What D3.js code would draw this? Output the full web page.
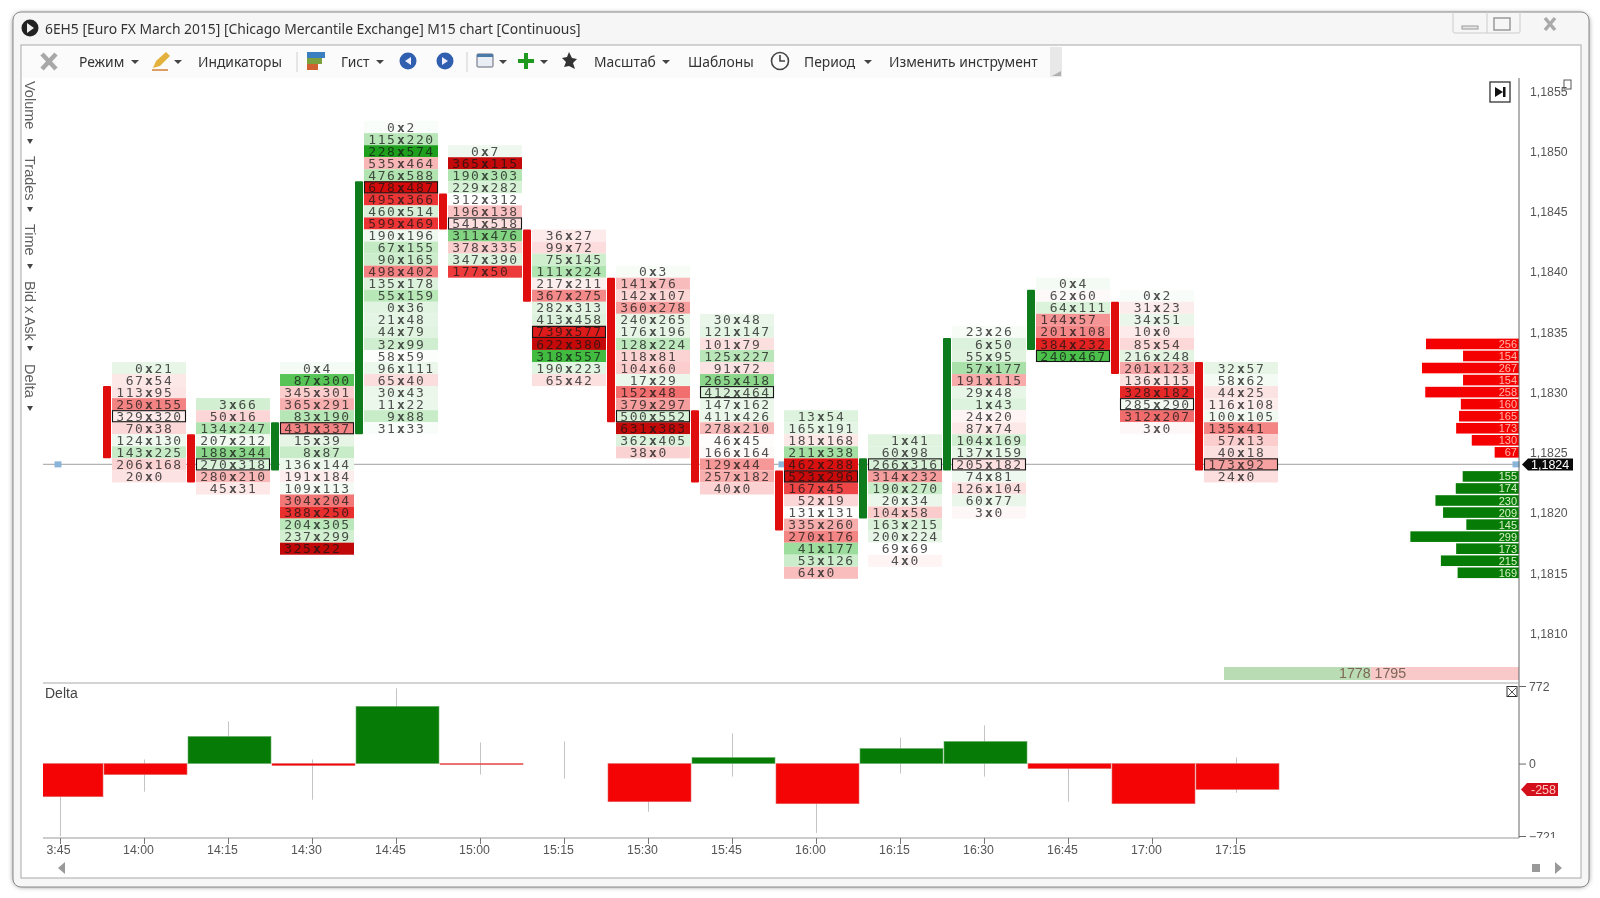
<!DOCTYPE html>
<html><head><meta charset="utf-8">
<style>
html,body{margin:0;padding:0;background:#fff;overflow:hidden}
svg{display:block;filter:blur(0.45px)}
.num{font-family:"DejaVu Sans Mono",monospace;font-size:13px;letter-spacing:1.6px}
.ui{font-family:"Noto Sans",sans-serif}
.ax{font-family:"Liberation Sans",Arial,sans-serif;font-size:12.3px;fill:#555}
</style>
<script src="https://cdn.jsdelivr.net/npm/d3@7"></script>
</head><body><svg id="c" width="1600" height="898"></svg>
<script>
// ---- data -------------------------------------------------------------
const titleText = "6EH5 [Euro FX March 2015] [Chicago Mercantile Exchange] M15 chart [Continuous]";
const timeLabels = ["13:45","14:00","14:15","14:30","14:45","15:00","15:15","15:30","15:45","16:00","16:15","16:30","16:45","17:00","17:15"];
const priceTicks = [1.1855,1.1850,1.1845,1.1840,1.1835,1.1830,1.1825,1.1820,1.1815,1.1810];
const lastPrice = 1.1824;

// highest traded price of each footprint column (14:00 .. 17:15)
const colTop = [1.1832,1.1829,1.1832,1.1852,1.1850,1.1843,1.1840,1.1836,1.1828,1.1826,1.1835,1.1839,1.1838,1.1832];
const colOpen  = [1.1830,1.1826,1.1824,1.1827,1.1846,1.1843,1.1839,1.1828,1.1823,1.1820,1.1824,1.1834,1.1837,1.1832];
const colClose = [1.1825,1.1823,1.1827,1.1847,1.1844,1.1838,1.1828,1.1823,1.1819,1.1824,1.1834,1.1838,1.1832,1.1824];

const col01 = [[0,21],[67,54],[113,95],[250,155],[329,320],[70,38],[124,130],[143,225],[206,168],[20,0]];
const col02 = [[3,66],[50,16],[134,247],[207,212],[188,344],[270,318],[280,210],[45,31]];
const col03 = [[0,4],[87,300],[345,301],[365,291],[83,190],[431,337],[15,39],[8,87],[136,144],[191,184],[109,113],[304,204],[388,250],[204,305],[237,299],[325,22]];
const col04 = [[0,2],[115,220],[228,574],[535,464],[476,588],[678,487],[495,366],[460,514],[599,469],[190,196],[67,155],[90,165],[498,402],[135,178],[55,159],[0,36],[21,48],[44,79],[32,99],[58,59],[96,111],[65,40],[30,43],[11,22],[9,88],[31,33]];
const col05 = [[0,7],[365,115],[190,303],[229,282],[312,312],[196,138],[541,518],[311,476],[378,335],[347,390],[177,50]];
const col06 = [[36,27],[99,72],[75,145],[111,224],[217,211],[367,275],[282,313],[413,458],[739,577],[622,380],[318,557],[190,223],[65,42]];
const col07 = [[0,3],[141,76],[142,107],[360,278],[240,265],[176,196],[128,224],[118,81],[104,60],[17,29],[152,48],[379,297],[500,552],[631,383],[362,405],[38,0]];
const col08 = [[30,48],[121,147],[101,79],[125,227],[91,72],[265,418],[412,464],[147,162],[411,426],[278,210],[46,45],[166,164],[129,44],[257,182],[40,0]];
const col09 = [[13,54],[165,191],[181,168],[211,338],[462,288],[523,296],[167,45],[52,19],[131,131],[335,260],[270,176],[41,177],[53,126],[64,0]];
const col10 = [[1,41],[60,98],[266,316],[314,232],[190,270],[20,34],[104,58],[163,215],[200,224],[69,69],[4,0]];
const col11 = [[23,26],[6,50],[55,95],[57,177],[191,115],[29,48],[1,43],[24,20],[87,74],[104,169],[137,159],[205,182],[74,81],[126,104],[60,77],[3,0]];
const col12 = [[0,4],[62,60],[64,111],[144,57],[201,108],[384,232],[240,467]];
const col13 = [[0,2],[31,23],[34,51],[10,0],[85,54],[216,248],[201,123],[136,115],[328,182],[285,290],[312,207],[3,0]];
const col14 = [[32,57],[58,62],[44,25],[116,108],[100,105],[135,41],[57,13],[40,18],[173,92],[24,0]];
const footprint = [col01,col02,col03,col04,col05,col06,col07,col08,col09,col10,col11,col12,col13,col14];

const deltaValue = [-330,-110,270,-20,570,-5,0,-380,60,-400,150,220,-50,-400,-258];
const deltaHigh  = [0,40,420,40,750,210,220,0,300,0,260,380,0,0,60];
const deltaLow   = [-725,-280,0,-360,0,-110,-150,-480,-130,-690,-100,-130,-380,-80,-290];
const deltaTicks = [772,0,-721];
const deltaLast = -258;

const profileAskPrices = [1.1834,1.1833,1.1832,1.1831,1.1830,1.1829,1.1828,1.1827,1.1826,1.1825];
const profileAsk = [256,154,267,154,258,160,165,173,130,67];
const profileBidPrices = [1.1823,1.1822,1.1821,1.1820,1.1819,1.1818,1.1817,1.1816,1.1815];
const profileBid = [155,174,230,209,145,299,173,215,169];
const totals = [1778,1795];

const menuItems = [["Режим",79],["Индикаторы",198],["Гист",341],["Масштаб",594],["Шаблоны",688],["Период",804],["Изменить инструмент",889]];
const menuArrows = [135,178,380,503,544,666,868];
const sideLabels = [["Volume",81],["Trades",156],["Time",224],["Bid x Ask",281],["Delta",364]];
const sideArrows = [142,210,267,349,409];

// ---- scales -----------------------------------------------------------
const svg = d3.select("#c");
const plotL = 43, plotR = 1519, mainT = 78, deltaB = 838;
const y = d3.scaleLinear().domain([1.1810,1.1855]).range([633,91]);
const x = d3.scaleLinear().domain([0,14]).range([60,1236]);
const yD = d3.scaleLinear().domain([-721,772]).range([836,686]);
const rowH = y(1.1830)-y(1.1831);
const w = d3.scaleLinear().domain([0,300]).range([0,109]);
const redC = d3.scaleLinear().domain([0,6,30,70,100,130,180,260]).range(["#ffffff","#fdeeee","#fcd9d9","#f9b8b8","#f27878","#ec3434","#d80c0c","#c00808"]).clamp(true);
const grnC = d3.scaleLinear().domain([0,6,40,100,160,240,340]).range(["#ffffff","#eef8ee","#dff3df","#bce8bc","#86d486","#40bc40","#1ea01e"]).clamp(true);
const bg = ([b,a]) => b>a ? redC(b-a) : grnC(a-b);

// ---- window chrome -----------------------------------------------------
const defs = svg.append("defs");
const sh = defs.append("filter").attr("id","sh").attr("x","-2%").attr("y","-2%").attr("width","104%").attr("height","104%");
sh.append("feGaussianBlur").attr("stdDeviation",2.5);
defs.append("clipPath").attr("id","dClip").append("rect").attr("x",plotL).attr("y",683).attr("width",plotR-plotL).attr("height",155);

svg.append("rect").attr("x",13).attr("y",13).attr("width",1576).attr("height",874).attr("rx",9).attr("fill","#888").attr("filter","url(#sh)");
svg.append("rect").attr("x",13).attr("y",12).attr("width",1576).attr("height",875).attr("rx",8).attr("fill","#f6f6f6").attr("stroke","#8a8a8a");
svg.append("rect").attr("x",21).attr("y",45).attr("width",1560).attr("height",833).attr("fill","#fff").attr("stroke","#a8a8a8");
svg.append("rect").attr("x",22).attr("y",46).attr("width",1036).attr("height",32).attr("fill","#fbfbfb");
svg.append("rect").attr("x",1050).attr("y",47).attr("width",12).attr("height",30).attr("fill","#e8e8e8");
svg.append("path").attr("d","M1052 76h9v-5z").attr("fill","#b0b0b0");

// title icon
svg.append("circle").attr("cx",30).attr("cy",28).attr("r",8.5).attr("fill","#222");
svg.append("path").attr("d","M27 23l7 5-7 5z").attr("fill","#eee");
svg.append("text").attr("class","ui").attr("x",45).attr("y",34).attr("font-size",13.85).attr("fill","#333").text(titleText);

// window buttons
const btn = svg.append("g").attr("fill","none").attr("stroke","#aaa");
btn.append("path").attr("d","M1453 12v19q0 2 2 2H1519q1 0 1-2V12M1487 12v21").attr("stroke","#ccc");
btn.append("rect").attr("x",1462).attr("y",26).attr("width",16).attr("height",3).attr("stroke","#999").attr("fill","#e6e6e6");
btn.append("rect").attr("x",1494).attr("y",18).attr("width",16).attr("height",12).attr("stroke","#999").attr("stroke-width",1.5);
btn.append("path").attr("d","M1545 18l10 12M1555 18l-10 12").attr("stroke","#aaa").attr("stroke-width",3.5);

// toolbar
svg.selectAll("text.menu").data(menuItems).join("text").attr("class","menu ui")
  .attr("x",d=>d[1]).attr("y",67).attr("font-size",13.85).attr("fill","#333").text(d=>d[0]);
svg.selectAll("path.arr").data(menuArrows).join("path").attr("class","arr")
  .attr("d",d=>`M${d-4} 60h8l-4 4z`).attr("fill","#444");
svg.append("path").attr("d","M42 54l14 15M56 54l-14 15").attr("stroke","#a8a8a8").attr("stroke-width",4.5);
svg.append("path").attr("d","M153 68l3-7 10-9 4 4-10 10z").attr("fill","#e3b23c");
svg.append("path").attr("d","M152 70h16").attr("stroke","#d08030").attr("stroke-width",1.5);
svg.append("path").attr("d","M297 52v20M467 52v20").attr("stroke","#d0d0d0");
svg.append("rect").attr("x",307).attr("y",52).attr("width",18).attr("height",6).attr("fill","#3a7fc0");
svg.append("rect").attr("x",307).attr("y",58).attr("width",15).attr("height",6).attr("fill","#7aa040");
svg.append("rect").attr("x",307).attr("y",64).attr("width",11).attr("height",6).attr("fill","#d06030");
[408,445].forEach((cx,i)=>{
  svg.append("circle").attr("cx",cx).attr("cy",61).attr("r",8.5).attr("fill","#2f5fae");
  svg.append("path").attr("d",i? `M${cx-3} 57l6 4-6 4z`:`M${cx+3} 57l-6 4 6 4z`).attr("fill","#eef");
});
svg.append("rect").attr("x",477).attr("y",54).attr("width",16).attr("height",13).attr("rx",1).attr("fill","#e8eef4").attr("stroke","#667");
svg.append("rect").attr("x",477).attr("y",54).attr("width",16).attr("height",3).attr("fill","#4a7aa8");
svg.append("path").attr("d","M526 53v16M518 61h16").attr("stroke","#1f9a1f").attr("stroke-width",4);
svg.append("path").attr("d","M569 52l3 6 5 1-4 4 2 6-6-3-5 1 2-5-4-4 5-1z").attr("fill","#333");
svg.append("circle").attr("cx",780).attr("cy",61).attr("r",8.5).attr("fill","none").attr("stroke","#444").attr("stroke-width",1.6);
svg.append("path").attr("d","M780 55v6h5").attr("fill","none").attr("stroke","#444").attr("stroke-width",1.6);

// left rotated labels
svg.selectAll("text.side").data(sideLabels).join("text").attr("class","side")
  .attr("transform",d=>`translate(25,${d[1]}) rotate(90)`)
  .attr("font-family","Liberation Sans").attr("font-size",14.5).attr("fill","#5f5f5f").text(d=>d[0]);
svg.selectAll("path.sidearr").data(sideArrows).join("path").attr("class","sidearr")
  .attr("d",d=>`M27 ${d-3}h6l-3 5z`).attr("fill","#444");

// ---- main pane ----------------------------------------------------------
const main = svg.append("g");
main.append("line").attr("x1",plotL).attr("x2",plotR).attr("y1",y(lastPrice)).attr("y2",y(lastPrice)).attr("stroke","#b4b4b4").attr("stroke-width",1.2);
[58,782,1516].forEach(px=>main.append("rect").attr("x",px-3.5).attr("y",y(lastPrice)-3).attr("width",7).attr("height",6).attr("fill","#8ab4d8"));

footprint.forEach((rows,ci)=>{
  const tickX = x(ci+1), left = tickX-32, width = 74, cx = left+37;
  const g = main.append("g");
  const data = rows.map((r,k)=>({b:r[0],a:r[1],p:colTop[ci]-k*0.0001}));
  const maxVol = d3.max(data,d=>d.a+d.b);
  g.selectAll("rect.cell").data(data).join("rect").attr("class","cell")
    .attr("x",left).attr("width",width).attr("y",d=>y(d.p)-rowH/2).attr("height",rowH)
    .attr("fill",d=>bg([d.b,d.a]));
  const tc = d=>d3.interpolateRgb(bg([d.b,d.a]),"#151515")(0.74);
  g.selectAll("text.b").data(data).join("text").attr("class","b num")
    .attr("x",cx-4.5).attr("y",d=>y(d.p)+4.6).attr("text-anchor","end").attr("fill",tc).text(d=>d.b);
  g.selectAll("text.m").data(data).join("text").attr("class","m num")
    .attr("x",cx).attr("y",d=>y(d.p)+4.6).attr("text-anchor","middle").attr("fill",tc)
    .style("font-weight","bold").style("letter-spacing","0").text("x");
  g.selectAll("text.a").data(data).join("text").attr("class","a num")
    .attr("x",cx+5.5).attr("y",d=>y(d.p)+4.6).attr("fill",tc).text(d=>d.a);
  g.selectAll("rect.poc").data(data.filter(d=>d.a+d.b===maxVol)).join("rect").attr("class","poc")
    .attr("x",left+0.5).attr("width",width-1).attr("y",d=>y(d.p)-rowH/2+0.5).attr("height",rowH-1)
    .attr("fill","none").attr("stroke","#151515").attr("stroke-width",1.1);
  // candle body
  const o=colOpen[ci], c=colClose[ci];
  main.append("rect").attr("x",tickX-41).attr("width",8)
    .attr("y",y(Math.max(o,c))-rowH/2).attr("height",Math.abs(y(o)-y(c))+rowH).attr("rx",1)
    .attr("fill",c>o?"#0e7c1c":"#df0d0d");
});

// right-side volume profile
const prof = svg.append("g");
function profile(prices,vals,col){
  const d = vals.map((v,i)=>({v,p:prices[i]}));
  prof.selectAll(null).data(d).join("rect").attr("x",d=>plotR-w(d.v)).attr("width",d=>w(d.v))
    .attr("y",d=>y(d.p)-5.3).attr("height",10.6).attr("fill",col);
  prof.selectAll(null).data(d).join("text").attr("x",plotR-2).attr("y",d=>y(d.p)+4)
    .attr("text-anchor","end").attr("font-family","Liberation Sans").attr("font-size",11)
    .attr("fill",col==="#f40000"?"#ffb4a8":"#d8f0c8").text(d=>d.v);
}
profile(profileAskPrices,profileAsk,"#f40000");
profile(profileBidPrices,profileBid,"#067c06");

// totals strip
const tot = d3.scaleLinear().domain([0,d3.sum(totals)]).range([1224,plotR]);
svg.append("rect").attr("x",tot(0)).attr("y",667).attr("width",tot(totals[0])-tot(0)).attr("height",13).attr("fill","#b9dcb5");
svg.append("rect").attr("x",tot(totals[0])).attr("y",667).attr("width",plotR-tot(totals[0])).attr("height",13).attr("fill","#f9c8c8");
svg.append("text").attr("x",1339).attr("y",678).attr("font-family","Liberation Sans").attr("font-size",14.2).attr("fill","#7d6656").text(totals.join(" "));

// jump button
svg.append("rect").attr("x",1490).attr("y",82).attr("width",20).attr("height",20).attr("fill","#fff").attr("stroke","#333").attr("stroke-width",1.3);
svg.append("path").attr("d","M1495 87l8 5-8 5z").attr("fill","#111");
svg.append("rect").attr("x",1503).attr("y",87).attr("width",2.5).attr("height",10).attr("fill","#111");
svg.append("rect").attr("x",1564).attr("y",80).attr("width",7).attr("height",9).attr("fill","#fff").attr("stroke","#555");

// price axis
const pa = svg.append("g").attr("transform",`translate(${plotR},0)`)
  .call(d3.axisRight(y).tickValues(priceTicks).tickSize(0).tickPadding(11).tickFormat(d=>d3.format(".4f")(d).replace(".",",")));
pa.select(".domain").remove();
pa.selectAll("text").attr("class","ax").attr("dy","0.35em");
svg.append("line").attr("x1",plotR).attr("x2",plotR).attr("y1",78).attr("y2",deltaB).attr("stroke","#666");

// last price flag
svg.append("path").attr("d",`M1522 ${y(lastPrice)}l6-6h45v12h-45z`).attr("fill","#0a0a0a");
svg.append("text").attr("x",1531).attr("y",y(lastPrice)+4.5).attr("font-family","Liberation Sans").attr("font-size",12.5).attr("fill","#fff").text("1,1824");

// ---- delta pane ---------------------------------------------------------
svg.append("line").attr("x1",plotL).attr("x2",plotR).attr("y1",683).attr("y2",683).attr("stroke","#aaa").attr("stroke-width",1.2);
svg.append("line").attr("x1",plotL).attr("x2",plotR).attr("y1",deltaB).attr("y2",deltaB).attr("stroke","#999").attr("stroke-width",1.2);
svg.append("text").attr("x",45).attr("y",698).attr("font-family","Liberation Sans").attr("font-size",14).attr("fill","#444").text("Delta");
svg.append("rect").attr("x",1507).attr("y",686.5).attr("width",10).attr("height",10).attr("fill","#fff").attr("stroke","#333");
svg.append("path").attr("d","M1508 688l8 8M1516 688l-8 8").attr("stroke","#555");

const dp = svg.append("g").attr("clip-path","url(#dClip)");
const dd = deltaValue.map((v,i)=>({v,i,h:deltaHigh[i],l:deltaLow[i]}));
dp.selectAll("line.w").data(dd).join("line").attr("class","w")
  .attr("x1",d=>x(d.i)+0.5).attr("x2",d=>x(d.i)+0.5).attr("y1",d=>yD(d.h)).attr("y2",d=>yD(d.l))
  .attr("stroke","#c4c4c4").attr("stroke-width",1);
dp.selectAll("rect.d").data(dd).join("rect").attr("class","d")
  .attr("x",d=>x(d.i)-40).attr("width",83)
  .attr("y",d=>yD(Math.max(d.v,0))).attr("height",d=>Math.max(Math.abs(yD(d.v)-yD(0)),d.v===0?0:1))
  .attr("fill",d=>d.v>0?"#067c06":"#f40404").attr("stroke",d=>d.v>0?"#6bb06b":"#e26a6a").attr("stroke-width",0.6);

// delta axis
const da = svg.append("g").attr("transform",`translate(${plotR},0)`)
  .call(d3.axisRight(yD).tickValues(deltaTicks).tickSize(7).tickPadding(3));
da.select(".domain").remove();
da.selectAll("line").attr("stroke","#666");
da.selectAll("text").attr("class","ax").attr("dy","0.35em");
svg.append("rect").attr("x",1527).attr("y",deltaB).attr("width",40).attr("height",6).attr("fill","#fff");

// -258 flag
svg.append("path").attr("d",`M1521 ${yD(deltaLast)}l6-6.5h31v13h-31z`).attr("fill","#d30f1c");
svg.append("text").attr("x",1531).attr("y",yD(deltaLast)+4.5).attr("font-family","Liberation Sans").attr("font-size",12.5).attr("fill","#ffc8c0").text(deltaLast);

// time axis
const ta = svg.append("g").attr("transform",`translate(0,${deltaB})`)
  .call(d3.axisBottom(x).tickValues(d3.range(15)).tickSize(6).tickPadding(1).tickFormat(i=>timeLabels[i]));
ta.select(".domain").remove();
ta.selectAll("line").attr("stroke","#777");
ta.selectAll("text").attr("class","ax").attr("dx",-6);
ta.selectAll("g.tick").filter(i=>i===0).select("text").text("3:45").attr("dx",-2);

// scroll controls
svg.append("path").attr("d","M58 868l7-6v12z").attr("fill","#999");
svg.append("rect").attr("x",1532).attr("y",864).attr("width",8).attr("height",8).attr("fill","#999");
svg.append("path").attr("d","M1555 862l7 6-7 6z").attr("fill","#999");
</script></body></html>
